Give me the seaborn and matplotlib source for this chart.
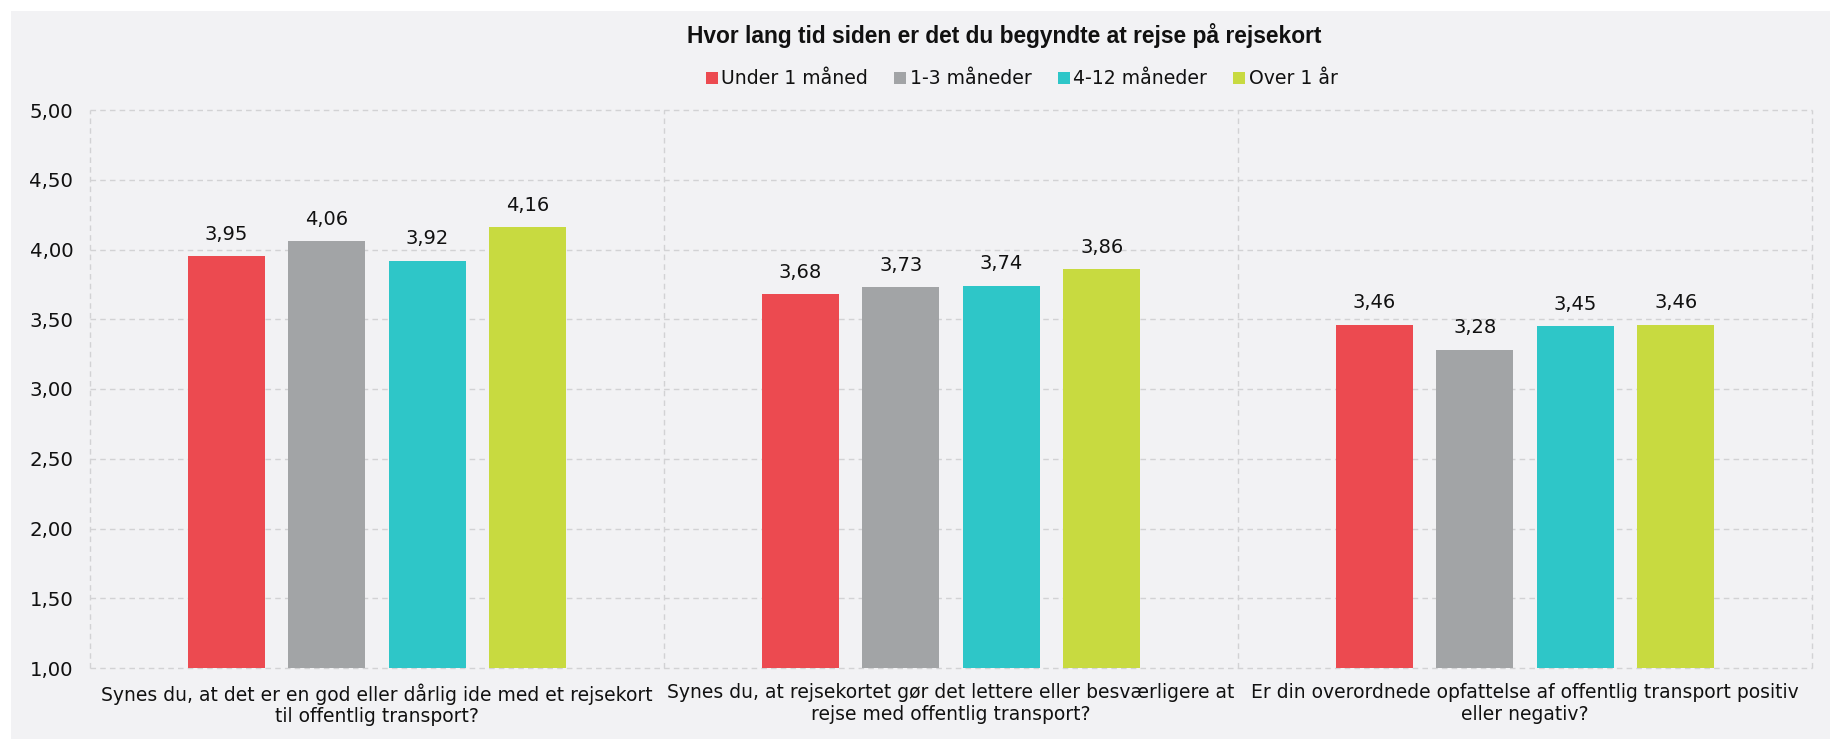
import matplotlib
matplotlib.use("Agg")
import matplotlib.pyplot as plt
import seaborn as sns
import pandas as pd
from matplotlib.lines import Line2D
from matplotlib.patches import Rectangle

questions = [
    "Synes du, at det er en god eller dårlig ide med et rejsekort\ntil offentlig transport?",
    "Synes du, at rejsekortet gør det lettere eller besværligere at\nrejse med offentlig transport?",
    "Er din overordnede opfattelse af offentlig transport positiv\neller negativ?",
]
groups = ["Under 1 måned", "1-3 måneder", "4-12 måneder", "Over 1 år"]
under_1 = [3.95, 3.68, 3.46]
m1_3 = [4.06, 3.73, 3.28]
m4_12 = [3.92, 3.74, 3.45]
over_1 = [4.16, 3.86, 3.46]
yticks = [1.0, 1.5, 2.0, 2.5, 3.0, 3.5, 4.0, 4.5, 5.0]
title = "Hvor lang tid siden er det du begyndte at rejse på rejsekort"
colors = ["#EC4A50", "#A2A4A6", "#2EC6C8", "#C8DA40"]

rows = []
for g, vals in zip(groups, [under_1, m1_3, m4_12, over_1]):
    for q, v in zip(questions, vals):
        rows.append({"q": q, "g": g, "v": v})
df = pd.DataFrame(rows)

sns.set_theme(style="white")
plt.rcParams["font.family"] = ["DejaVu Sans"]

W, H = 1830, 739
fig = plt.figure(figsize=(W / 100, H / 100), dpi=100)
fig.patch.set_facecolor("white")
bg = "#F2F2F4"
fig.patches.append(Rectangle((11 / W, 0), 1 - 11 / W, 1 - 11 / H, transform=fig.transFigure,
                             facecolor=bg, edgecolor="none", zorder=-10))

ax = fig.add_axes([90 / W, 1 - 668 / H, (1812 - 90) / W, (668 - 110) / H])
ax.set_facecolor(bg)

sns.barplot(data=df, x="q", y="v", hue="g", hue_order=groups, order=questions,
            palette=colors, width=0.7, gap=0.235, legend=False, ax=ax,
            saturation=1, errorbar=None, edgecolor="none", linewidth=0)

ax.set_ylim(1, 5)
ax.set_xlim(-0.5, 2.5)
ax.set_yticks(yticks)
ax.set_yticklabels([f"{t:.2f}".replace(".", ",") for t in yticks])
for s in ax.spines.values():
    s.set_visible(False)
grid_kw = dict(color="#D2D2D4", linewidth=1, linestyle=(0, (4, 3)))
ax.grid(False)
for t in yticks:
    ax.axhline(t, zorder=0, clip_on=False, **grid_kw)
for xb in [-0.5, 0.5, 1.5, 2.5]:
    ax.axvline(xb, zorder=0, clip_on=False, **grid_kw)

ax.tick_params(axis="y", length=0, pad=12, labelsize=14.2, labelcolor="#111111")
ax.tick_params(axis="x", length=0, pad=11, labelsize=13.5, labelcolor="#111111")
for lbl in ax.get_xticklabels():
    lbl.set_linespacing(1.15)
ax.set_xlabel("")
ax.set_ylabel("")

for cont in ax.containers:
    ax.bar_label(cont, labels=[f"{v:.2f}".replace(".", ",") for v in cont.datavalues],
                 padding=9, fontsize=14, color="#111111")

fig.text(1004 / W, 1 - 36 / H, title, ha="center", va="center", fontsize=16.4,
         fontweight="bold", family=["Liberation Sans", "DejaVu Sans"], color="#111111")

handles = [Line2D([], [], marker="s", linestyle="none", markersize=8, color=c,
                  markeredgewidth=0) for c in colors]
leg = fig.legend(handles, groups, loc="center", bbox_to_anchor=(1021 / W, 1 - 79 / H),
                 ncol=4, frameon=False, fontsize=13.6, handletextpad=0.1,
                 columnspacing=1.3, handlelength=0.8, borderpad=0)
for t in leg.get_texts():
    t.set_color("#111111")

fig.savefig("out.png", dpi=100, facecolor="white")
